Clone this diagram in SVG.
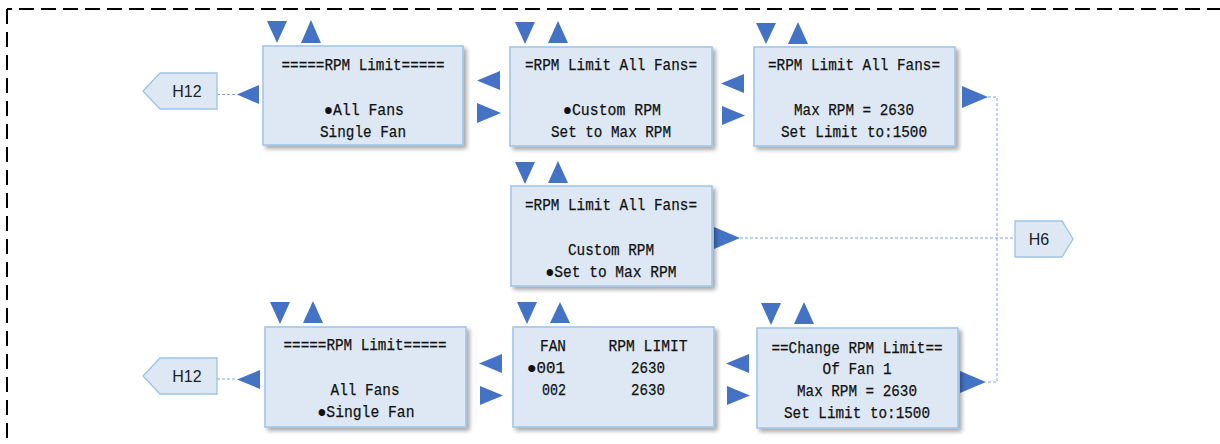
<svg xmlns="http://www.w3.org/2000/svg" width="1220" height="444" viewBox="0 0 1220 444">
<defs>
<filter id="sh" x="-10%" y="-10%" width="125%" height="130%">
<feDropShadow dx="3" dy="3" stdDeviation="2" flood-color="#000" flood-opacity="0.35"/>
</filter>
</defs>
<style>
.box{fill:#dde8f4;stroke:#9dc3e6;stroke-width:1.5;filter:url(#sh)}
.tag{fill:#dde8f4;stroke:#9dc3e6;stroke-width:1.3}
.tri{fill:#4472c4}
.t{font-family:"Liberation Mono","DejaVu Sans Mono",monospace;font-size:16px;fill:#111;stroke:#111;stroke-width:0.25;text-anchor:middle}
.h{font-family:"Liberation Sans","Open Sans",sans-serif;font-size:16px;fill:#222;text-anchor:middle}
.con{fill:none;stroke:#7fa3d9;stroke-width:1;stroke-dasharray:3 2}
.border{fill:none;stroke:#000;stroke-width:2}
</style>
<rect width="1220" height="444" fill="#fff"/>
<g id="frame">
<path class="border" d="M7,9 H1230" stroke-dasharray="15 7" stroke-dashoffset="10"/>
<path class="border" d="M7,9 V460" stroke-dasharray="15 8"/>
</g>
<g id="connectors">
<path class="con" d="M217,94.5 H237"/>
<path class="con" d="M217,379 H237"/>
<path class="con" d="M988,97 H997 V382 H986"/>
<path class="con" d="M740,238 H1015"/>
</g>
<g id="h12-top">
<polygon class="tag" points="160,73 217,73 217,109 160,109 143,91"/>
<text class="h" x="187" y="97">H12</text>
</g>
<g id="h12-bottom">
<polygon class="tag" points="160,358 217,358 217,394 160,394 143,376"/>
<text class="h" x="187" y="382">H12</text>
</g>
<g id="h6">
<polygon class="tag" points="1015,221 1062,221 1073,239 1062,257 1015,257"/>
<text class="h" x="1039" y="245">H6</text>
</g>
<g id="rpm-limit-all">
<polygon class="tri" points="267,21 287,21 277,43"/>
<polygon class="tri" points="301,43 321,43 311,20"/>
<polygon class="tri" points="259,85 259,104 237,94.5"/>
<rect class="box" x="263" y="46" width="200" height="99"/>
<text class="t" x="363" y="70" textLength="163" lengthAdjust="spacingAndGlyphs">=====RPM Limit=====</text>
<text class="t" x="364" y="115" textLength="80" lengthAdjust="spacingAndGlyphs">●All Fans</text>
<text class="t" x="363" y="137" textLength="86" lengthAdjust="spacingAndGlyphs">Single Fan</text>
</g>
<g id="all-fans-custom">
<polygon class="tri" points="515,22 535,22 525,44"/>
<polygon class="tri" points="548,43 568,43 558,21"/>
<polygon class="tri" points="500,71 500,90 477,80.5"/>
<polygon class="tri" points="477,103 501,113 477,123"/>
<rect class="box" x="510" y="47" width="202" height="99"/>
<text class="t" x="611" y="70" textLength="172" lengthAdjust="spacingAndGlyphs">=RPM Limit All Fans=</text>
<text class="t" x="612" y="115" textLength="98" lengthAdjust="spacingAndGlyphs">●Custom RPM</text>
<text class="t" x="611" y="137" textLength="120" lengthAdjust="spacingAndGlyphs">Set to Max RPM</text>
</g>
<g id="all-fans-set">
<polygon class="tri" points="756,23 776,23 766,44"/>
<polygon class="tri" points="788,44 808,44 798,22"/>
<polygon class="tri" points="744,74 744,93 721,83.5"/>
<polygon class="tri" points="722,106 745,115.5 722,125"/>
<polygon class="tri" points="962,86 988,97 962,108"/>
<rect class="box" x="754" y="47" width="201" height="99"/>
<text class="t" x="854" y="70" textLength="172" lengthAdjust="spacingAndGlyphs">=RPM Limit All Fans=</text>
<text class="t" x="854" y="115" textLength="120" lengthAdjust="spacingAndGlyphs">Max RPM = 2630</text>
<text class="t" x="854" y="137" textLength="146" lengthAdjust="spacingAndGlyphs">Set Limit to:1500</text>
</g>
<g id="all-fans-max">
<polygon class="tri" points="515,162 535,162 525,184"/>
<polygon class="tri" points="548,183 568,183 558,161"/>
<polygon class="tri" points="714,227 740,238 714,249"/>
<rect class="box" x="511" y="186" width="201" height="100"/>
<text class="t" x="611" y="210" textLength="172" lengthAdjust="spacingAndGlyphs">=RPM Limit All Fans=</text>
<text class="t" x="611" y="255" textLength="86" lengthAdjust="spacingAndGlyphs">Custom RPM</text>
<text class="t" x="611" y="277" textLength="131" lengthAdjust="spacingAndGlyphs">●Set to Max RPM</text>
</g>
<g id="rpm-limit-single">
<polygon class="tri" points="270,302 290,302 280,324"/>
<polygon class="tri" points="303,323 323,323 313,301"/>
<polygon class="tri" points="260,370 260,389 237,379.5"/>
<rect class="box" x="265" y="327" width="201" height="100"/>
<text class="t" x="365" y="350" textLength="163" lengthAdjust="spacingAndGlyphs">=====RPM Limit=====</text>
<text class="t" x="365" y="395" textLength="69" lengthAdjust="spacingAndGlyphs">All Fans</text>
<text class="t" x="366" y="417" textLength="97" lengthAdjust="spacingAndGlyphs">●Single Fan</text>
</g>
<g id="fan-table">
<polygon class="tri" points="517,302 537,302 527,324"/>
<polygon class="tri" points="550,323 570,323 560,302"/>
<polygon class="tri" points="502,354 502,373 479,363.5"/>
<polygon class="tri" points="480,386 503,395.5 480,405"/>
<rect class="box" x="513" y="327" width="201" height="100"/>
<text class="t" x="553" y="351" textLength="26" lengthAdjust="spacingAndGlyphs">FAN</text>
<text class="t" x="648" y="351" textLength="79" lengthAdjust="spacingAndGlyphs">RPM LIMIT</text>
<text class="t" x="546" y="373" textLength="38" lengthAdjust="spacingAndGlyphs">●001</text>
<text class="t" x="648" y="373" textLength="34" lengthAdjust="spacingAndGlyphs">2630</text>
<text class="t" x="554" y="395" textLength="24" lengthAdjust="spacingAndGlyphs">002</text>
<text class="t" x="648" y="395" textLength="34" lengthAdjust="spacingAndGlyphs">2630</text>
</g>
<g id="change-fan1">
<polygon class="tri" points="761,303 781,303 771,325"/>
<polygon class="tri" points="794,324 814,324 804,302"/>
<polygon class="tri" points="749,354 749,373 726,363.5"/>
<polygon class="tri" points="727,386 750,395.5 727,405"/>
<polygon class="tri" points="960,371 986,382 960,393"/>
<rect class="box" x="757" y="328" width="201" height="100"/>
<text class="t" x="857" y="353" textLength="171" lengthAdjust="spacingAndGlyphs">==Change RPM Limit==</text>
<text class="t" x="857" y="374" textLength="69" lengthAdjust="spacingAndGlyphs">Of Fan 1</text>
<text class="t" x="857" y="396" textLength="120" lengthAdjust="spacingAndGlyphs">Max RPM = 2630</text>
<text class="t" x="857" y="418" textLength="146" lengthAdjust="spacingAndGlyphs">Set Limit to:1500</text>
</g>
</svg>
